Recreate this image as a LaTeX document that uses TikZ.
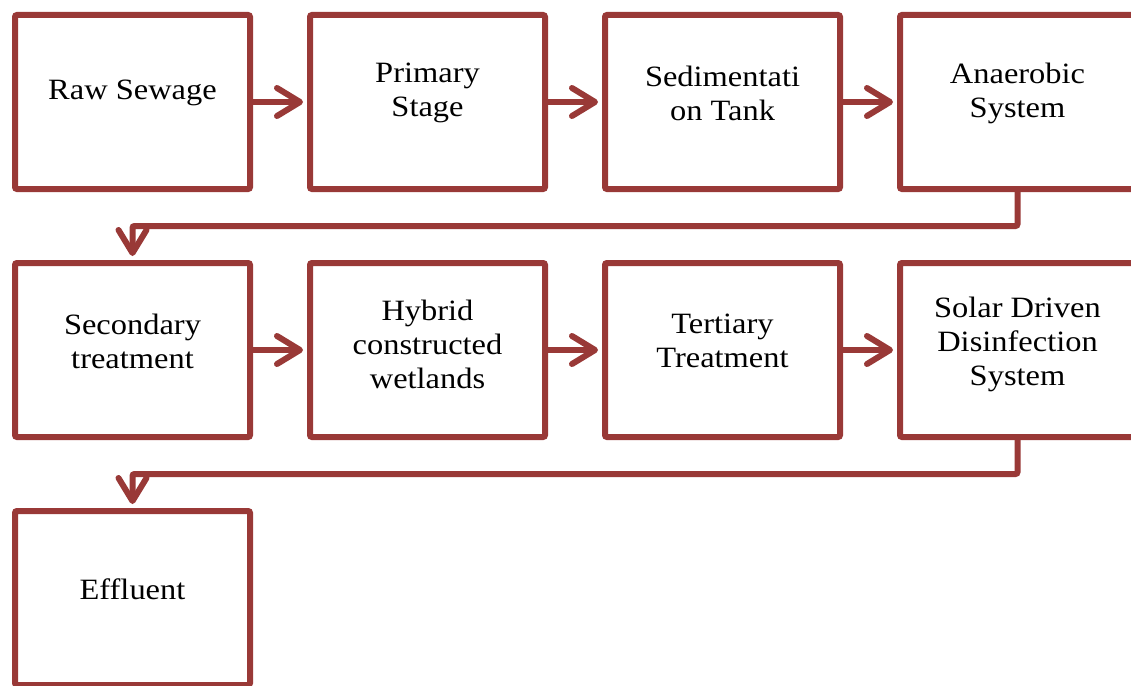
\documentclass[tikz,border=0pt]{standalone}
\usepackage{fontspec}
\setmainfont{Liberation Serif}[FakeStretch=1.1]
\usetikzlibrary{arrows.meta,calc}
\definecolor{boxred}{RGB}{153,57,55}
\begin{document}
\begin{tikzpicture}[x=1pt,y=-1pt,
 box/.style={draw=boxred, line width=6pt, rounded corners=2pt, minimum width=235pt, minimum height=174pt, inner sep=0pt},
 txt/.style={align=center, font=\fontsize{29.5}{34}\selectfont, text=black, inner sep=0pt},
 conn/.style={draw=boxred, line width=6pt, rounded corners=2pt, -{Straight Barb[round,length=23pt,width=28pt]}, shorten >=4pt}]
\useasboundingbox (0,0) rectangle (1131,685);
\clip (0,0) rectangle (1131,685);
\node[box] (b1) at (132.5,102) {};
\node[box] (b2) at (427.5,102) {};
\node[box] (b3) at (722.5,102) {};
\node[box] (b4) at (1017.5,102) {};
\node[box] (b5) at (132.5,350) {};
\node[box] (b6) at (427.5,350) {};
\node[box] (b7) at (722.5,350) {};
\node[box] (b8) at (1017.5,350) {};
\node[box] (b9) at (132.5,598) {};
\node[txt] (t1) at ([yshift=9pt]b1.center) {Raw Sewage};
\node[txt] (t2) at ([yshift=9pt]b2.center) {Primary\\Stage};
\node[txt] (t3) at ([yshift=9pt]b3.center) {Sedimentati\\on Tank};
\node[txt] (t4) at ([yshift=9pt]b4.center) {Anaerobic\\System};
\node[txt] (t5) at ([yshift=9pt]b5.center) {Secondary\\treatment};
\node[txt] (t6) at ([yshift=6pt]b6.center) {Hybrid\\constructed\\wetlands};
\node[txt] (t7) at ([yshift=9pt]b7.center) {Tertiary\\Treatment};
\node[txt] (t8) at ([yshift=6pt]b8.center) {Solar Driven\\Disinfection\\System};
\node[txt] (t9) at ([yshift=9pt]b9.center) {Effluent};
\draw[conn] (b1.east) -- (b2.west);
\draw[conn] (b2.east) -- (b3.west);
\draw[conn] (b3.east) -- (b4.west);
\draw[conn] (b4.south) -- ++(0,34) -| (b5.north);
\draw[conn] (b5.east) -- (b6.west);
\draw[conn] (b6.east) -- (b7.west);
\draw[conn] (b7.east) -- (b8.west);
\draw[conn] (b8.south) -- ++(0,34) -| (b9.north);
\end{tikzpicture}
\end{document}
